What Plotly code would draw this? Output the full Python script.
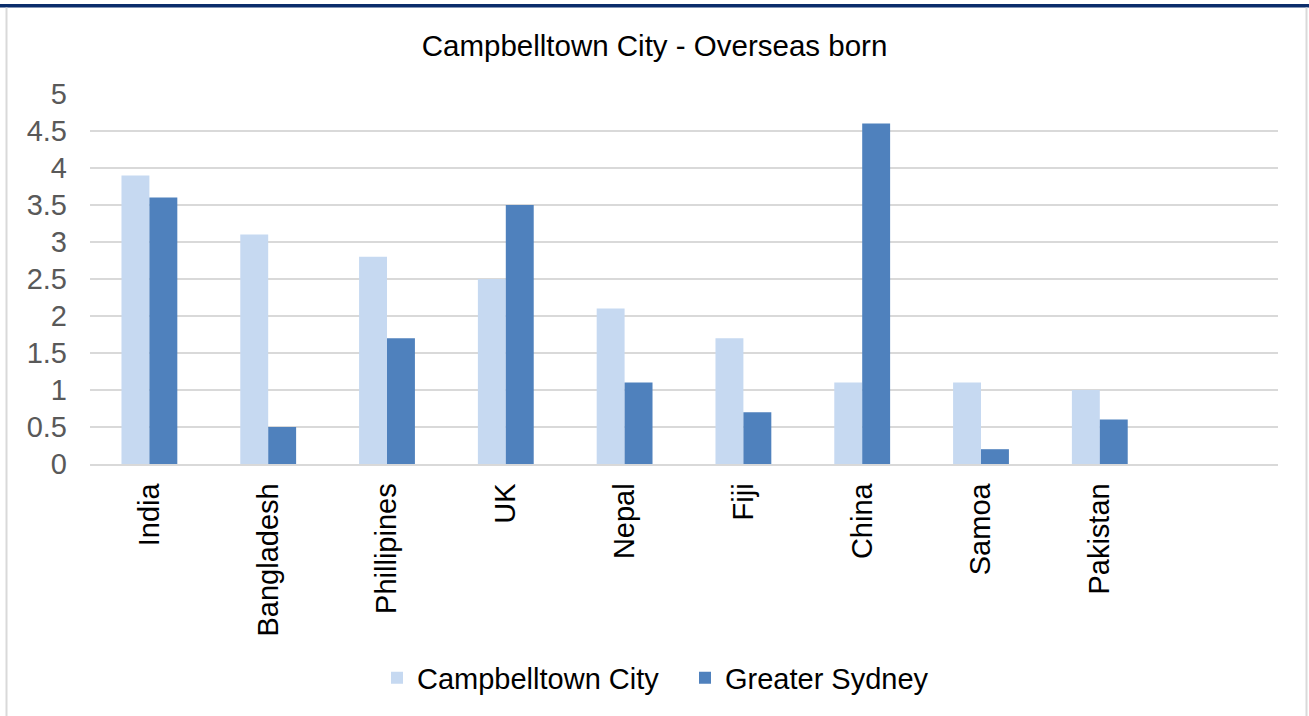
import plotly.graph_objects as go

categories = ["India", "Bangladesh", "Phillipines", "UK", "Nepal", "Fiji", "China", "Samoa", "Pakistan"]
campbelltown = [3.9, 3.1, 2.8, 2.5, 2.1, 1.7, 1.1, 1.1, 1.0]
greater_sydney = [3.6, 0.5, 1.7, 3.5, 1.1, 0.7, 4.6, 0.2, 0.6]
y_ticks = [0, 0.5, 1, 1.5, 2, 2.5, 3, 3.5, 4, 4.5, 5]
y_tick_text = ["0", "0.5", "1", "1.5", "2", "2.5", "3", "3.5", "4", "4.5", "5"]

W, H = 1309, 716
L, R, T, B = 90, 1278, 94, 464
pw, ph = R - L, B - T

def px(x):
    return (x - L) / pw

def py(y):
    return (B - y) / ph

font = "Liberation Sans, Arial, sans-serif"

fig = go.Figure()
fig.add_trace(go.Bar(name="Campbelltown City", x=categories, y=campbelltown,
                     marker=dict(color="#C6D9F1", line=dict(width=0))))
fig.add_trace(go.Bar(name="Greater Sydney", x=categories, y=greater_sydney,
                     marker=dict(color="#4F81BD", line=dict(width=0))))

fig.update_layout(
    width=W, height=H,
    margin=dict(l=L, r=W - R, t=T, b=H - B, autoexpand=False),
    paper_bgcolor="white", plot_bgcolor="white",
    barmode="group", bargap=0.53, bargroupgap=0,
    font=dict(family=font, size=29, color="#000000"),
    title=dict(text="Campbelltown City - Overseas born", x=0.5, xref="container", xanchor="center",
               y=1 - 46 / H, yref="container", yanchor="middle",
               font=dict(family=font, size=29.5, color="#000000")),
    legend=dict(orientation="h", x=(417 - 40) / W, xref="container", xanchor="left",
                y=1 - 678 / H, yref="container", yanchor="middle",
                font=dict(family=font, size=29, color="#000000"),
                itemwidth=30, traceorder="normal", entrywidth=263, entrywidthmode="pixels"),
    xaxis=dict(type="category", range=[-0.5, 9.5], tickangle=-90, showgrid=False,
               showline=True, linecolor="#D9D9D9", linewidth=1.5, ticks="",
               ticklabelstandoff=6,
               tickfont=dict(family=font, size=29, color="#000000")),
    yaxis=dict(range=[0, 5], tickvals=y_ticks, ticktext=y_tick_text, showgrid=True,
               gridcolor="#D9D9D9", gridwidth=1.5, zeroline=False, showline=False, ticks="",
               ticklabelstandoff=22,
               tickfont=dict(family=font, size=29, color="#595959")),
    showlegend=True,
)

shapes = [
    dict(type="rect", xref="paper", yref="paper", x0=px(0), x1=px(W), y0=py(7.5), y1=py(4),
         fillcolor="#0B2D6B", line=dict(width=0), layer="above"),
    dict(type="line", xref="paper", yref="paper", x0=px(6.5), x1=px(6.5), y0=py(7.5), y1=py(H),
         line=dict(color="#D9D9D9", width=2)),
    dict(type="line", xref="paper", yref="paper", x0=px(1306.5), x1=px(1306.5), y0=py(7.5), y1=py(H),
         line=dict(color="#D9D9D9", width=2)),
]
fig.update_layout(shapes=shapes)

fig.write_html("out.html")
